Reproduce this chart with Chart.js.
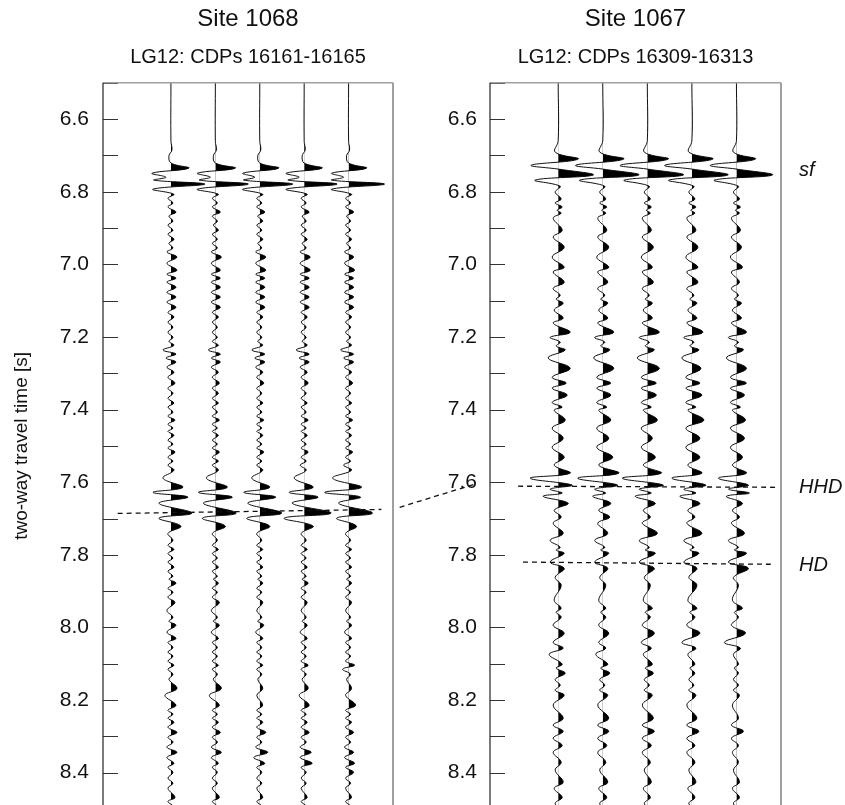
<!DOCTYPE html>
<html>
<head>
<meta charset="utf-8">
<script src="https://cdn.jsdelivr.net/npm/chart.js@4"></script>
<style>
  html, body { margin: 0; padding: 0; background: #fff; overflow: hidden; }
  #wrap { position: relative; width: 845px; height: 805px; overflow: hidden; }
  #c1 { position: absolute; left: 0; top: 0; }
  #c2 { position: absolute; left: 420px; top: 0; }
</style>
</head>
<body>
<div id="wrap">
  <canvas id="c1" width="480" height="840"></canvas>
  <canvas id="c2" width="425" height="840"></canvas>
</div>
<script>
// seismic wiggle traces, two CDP gathers (5 traces each)
// times = two-way travel time [s] of each picked extremum, amps = trace amplitude there
const traceNumbers = [1, 2, 3, 4, 5];

// ---- Site 1068, LG12 CDPs 16161-16165 ----
const leftTimes = [
  6.500, 6.661, 6.685, 6.701, 6.721,
  6.735, 6.749, 6.760, 6.768, 6.779, 6.793,
  6.807, 6.818, 6.831, 6.842, 6.856, 6.867, 6.881, 6.892, 6.906, 6.917,
  6.931, 6.942, 6.955, 6.966, 6.980, 6.997, 7.016, 7.027, 7.038, 7.049,
  7.063, 7.077, 7.090, 7.104, 7.118, 7.132, 7.145, 7.159, 7.173, 7.187,
  7.201, 7.212, 7.223, 7.236, 7.247, 7.258, 7.269, 7.283, 7.297, 7.311,
  7.327, 7.341, 7.355, 7.369, 7.382, 7.393, 7.407, 7.418, 7.429, 7.440,
  7.451, 7.460, 7.471, 7.484, 7.495, 7.506, 7.517, 7.531, 7.542, 7.553,
  7.567,
  7.589, 7.614, 7.628, 7.641, 7.658, 7.685, 7.699, 7.721,
  7.741, 7.760, 7.774, 7.785, 7.796, 7.809, 7.820, 7.834, 7.845, 7.859,
  7.867, 7.878, 7.892, 7.903, 7.917, 7.931, 7.953, 7.972, 7.983, 7.994,
  8.013, 8.030, 8.041, 8.055, 8.068, 8.079, 8.093, 8.104, 8.115, 8.129,
  8.143, 8.168, 8.187, 8.214, 8.228, 8.239, 8.250, 8.261, 8.275, 8.289,
  8.302, 8.316, 8.330, 8.344, 8.358, 8.374, 8.385, 8.399, 8.415, 8.429,
  8.443, 8.468, 8.479, 8.493, 8.510
];
const leftTrace1 = [
  0, 0, 1, -2, 0,
  18, -19, -5, -17, 34, -18,
  3, -3, 2, -3, 5, -2, 2, -3, 2, -3,
  3, -2, 2, -4, 6, -4, 6, -4, 5, -4,
  5, -4, 5, -4, 5, -3, 3, -3, 2, -3,
  2, -2, 3, -8, 5, -5, 5, -4, 3, -3,
  4, -3, 2, -3, 3, -3, 2, -3, 4, -3,
  2, -3, 3, -3, 2, -3, 4, -3, 2, -3,
  3,
  -8, 12, -18, 17, -12, 21, -12, 10,
  -3, 2, -3, 3, -3, 2, -3, 3, -3, 2,
  -2, 5, -3, 2, -3, 4, -4, 2, -2, 5,
  -4, 5, -3, 2, -3, 2, -3, 3, -3, 2,
  -2, 6, -6, 5, -3, 2, -3, 3, -3, 6,
  -3, 2, -4, 6, -4, 3, -3, 2, -3, 2,
  -3, 4, -3, 2, -1
];
const leftTrace2 = [
  0, 0, 1, -2, 0,
  20, -18, -5, -16, 33, -18,
  3, -3, 2, -3, 5, -3, 2, -2, 3, -3,
  2, -3, 2, -4, 6, -4, 5, -4, 5, -4,
  5, -4, 5, -4, 5, -3, 3, -3, 2, -3,
  2, -3, 3, -7, 5, -4, 5, -4, 3, -3,
  4, -3, 3, -3, 3, -3, 2, -3, 4, -3,
  2, -3, 3, -3, 2, -3, 4, -3, 3, -3,
  3,
  -9, 12, -17, 17, -12, 21, -13, 10,
  -3, 2, -3, 3, -3, 2, -3, 3, -3, 2,
  -2, 3, -3, 2, -3, 4, -4, 2, -2, 4,
  -4, 3, -3, 2, -3, 2, -3, 3, -3, 2,
  -2, 6, -6, 4, -3, 2, -3, 3, -3, 5,
  -3, 2, -4, 6, -4, 3, -3, 2, -3, 2,
  -3, 4, -3, 2, -1
];
const leftTrace3 = [
  0, 0, 1, -2, 0,
  19, -17, -5, -16, 33, -17,
  3, -3, 2, -3, 5, -2, 3, -3, 2, -3,
  3, -2, 2, -4, 6, -4, 6, -4, 5, -4,
  5, -4, 5, -4, 5, -3, 3, -3, 2, -3,
  2, -2, 3, -8, 5, -5, 5, -4, 3, -3,
  4, -3, 2, -3, 3, -3, 2, -3, 4, -3,
  2, -3, 3, -3, 2, -3, 4, -3, 2, -3,
  3,
  -8, 10, -16, 16, -12, 22, -13, 10,
  -3, 2, -3, 3, -3, 2, -3, 3, -3, 2,
  -2, 3, -3, 2, -3, 3, -3, 2, -2, 4,
  -4, 3, -3, 2, -3, 2, -3, 3, -3, 2,
  -2, 3, -3, 3, -3, 2, -3, 3, -3, 6,
  -3, 2, -4, 8, -6, 5, -3, 2, -3, 2,
  -3, 3, -3, 2, -1
];
const leftTrace4 = [
  0, 0, 1, -2, 0,
  18, -18, -5, -16, 33, -18,
  3, -3, 2, -3, 5, -2, 2, -3, 2, -3,
  3, -2, 2, -4, 6, -4, 6, -4, 5, -4,
  5, -4, 5, -4, 5, -3, 3, -3, 2, -3,
  2, -2, 3, -8, 5, -5, 5, -4, 3, -3,
  4, -3, 2, -3, 3, -3, 2, -3, 4, -3,
  2, -3, 3, -3, 2, -3, 4, -3, 2, -4,
  2,
  -10, 9, -15, 14, -12, 27, -20, 9,
  -3, 2, -3, 3, -3, 2, -3, 3, -3, 2,
  -2, 4, -3, 2, -3, 3, -3, 2, -2, 3,
  -4, 3, -3, 2, -3, 2, -3, 4, -3, 2,
  -2, 4, -5, 5, -3, 2, -3, 3, -3, 5,
  -3, 2, -4, 7, -4, 8, -3, 2, -3, 2,
  -3, 3, -3, 2, -1
];
const leftTrace5 = [
  0, 0, 1, -2, 0,
  18, -17, -5, -17, 36, -17,
  3, -3, 2, -3, 5, -2, 2, -3, 2, -3,
  3, -2, 2, -4, 5, -4, 6, -4, 5, -4,
  5, -4, 5, -4, 5, -3, 3, -3, 2, -3,
  2, -2, 3, -8, 5, -5, 5, -4, 3, -3,
  4, -3, 2, -3, 3, -3, 2, -3, 4, -3,
  2, -3, 3, -3, 2, -3, 4, -3, 2, -5,
  3,
  -16, 13, -24, 12, -10, 24, -12, 8,
  -3, 2, -3, 3, -3, 2, -3, 3, -3, 2,
  -2, 3, -3, 2, -3, 3, -3, 2, -2, 3,
  -4, 3, -3, 2, -3, 2, -3, 6, -6, 2,
  -2, 3, -3, 7, -3, 2, -3, 3, -3, 5,
  -3, 2, -4, 5, -4, 6, -3, 5, -3, 2,
  -3, 3, -3, 2, -1
];

// ---- Site 1067, LG12 CDPs 16309-16313 ----
const rightTimes = [
  6.500, 6.660,
  6.691, 6.710, 6.727, 6.738, 6.754, 6.768,
  6.785, 6.801, 6.820, 6.831, 6.842, 6.851, 6.859, 6.873, 6.906, 6.925,
  6.953, 6.980, 7.008, 7.021, 7.049, 7.066, 7.085, 7.096, 7.107, 7.126,
  7.148, 7.162, 7.187, 7.201, 7.214, 7.225, 7.236, 7.258, 7.286, 7.311,
  7.327, 7.341, 7.360, 7.380, 7.393, 7.402, 7.429, 7.451, 7.479, 7.504,
  7.531, 7.553,
  7.575, 7.589, 7.608, 7.619, 7.630, 7.639, 7.658,
  7.677, 7.696, 7.713, 7.741, 7.760, 7.779, 7.787, 7.796, 7.820, 7.837,
  7.862, 7.884, 7.925, 7.947, 7.958, 7.972, 7.994, 8.016, 8.041, 8.057,
  8.074, 8.101, 8.112, 8.126, 8.143, 8.159, 8.173, 8.187, 8.214, 8.250,
  8.269, 8.286, 8.305, 8.325, 8.344, 8.371, 8.393, 8.426, 8.443, 8.468,
  8.484, 8.504, 8.520
];
const rightTrace1 = [
  0, 0,
  -3, 20, -27, 1, 35, -23,
  2, -3, 3, -3, 4, -1, 3, -5, 4, -5,
  6, -6, 6, -5, 6, -5, 2, -2, 5, -4,
  5, -5, 12, -8, 2, -2, 7, -10, 12, -6,
  8, -6, 9, -6, 4, -4, 7, -6, 5, -6,
  6, -4,
  12, -28, 14, -8, 4, -15, 10,
  -4, 3, -5, 5, -8, 2, -2, 6, -8, 6,
  -3, 3, -4, 3, -2, 3, -5, 6, -5, 5,
  -9, 4, -2, 7, -3, 2, -3, 6, -5, 5,
  -5, 5, -5, 4, -5, 3, -3, 5, -4, 4,
  -3, 2, 0
];
const rightTrace2 = [
  0, 0,
  -3, 21, -27, 1, 36, -23,
  2, -3, 3, -3, 4, -1, 3, -5, 4, -5,
  6, -6, 6, -5, 5, -5, 2, -2, 5, -4,
  5, -5, 11, -8, 2, -2, 7, -9, 11, -6,
  8, -6, 8, -6, 4, -4, 8, -6, 6, -6,
  10, -4,
  16, -25, 15, -8, 3, -10, 8,
  -4, 7, -5, 5, -8, 2, -2, 6, -8, 5,
  -3, 3, -4, 3, -2, 3, -4, 6, -4, 3,
  -7, 5, -2, 7, -3, 2, -3, 5, -5, 6,
  -5, 6, -5, 4, -5, 3, -3, 5, -4, 4,
  -3, 2, 0
];
const rightTrace3 = [
  0, 0,
  -3, 21, -27, 1, 36, -23,
  2, -3, 3, -3, 4, -1, 3, -5, 4, -5,
  6, -6, 5, -5, 6, -5, 2, -2, 5, -4,
  5, -5, 12, -8, 2, -2, 7, -10, 12, -6,
  9, -6, 9, -6, 4, -4, 10, -6, 5, -6,
  8, -4,
  14, -25, 16, -8, 4, -12, 8,
  -4, 3, -5, 10, -8, 2, -2, 8, -8, 7,
  -3, 3, -4, 5, -2, 3, -5, 7, -6, 4,
  -4, 5, -2, 6, -3, 2, -3, 5, -5, 6,
  -5, 7, -5, 4, -5, 3, -3, 4, -4, 3,
  -3, 2, 0
];
const rightTrace4 = [
  0, 0,
  -3, 21, -27, 1, 36, -23,
  2, -3, 3, -3, 4, -1, 3, -5, 4, -5,
  6, -6, 6, -5, 6, -5, 2, -2, 5, -4,
  5, -5, 11, -8, 2, -2, 7, -10, 9, -6,
  8, -6, 10, -6, 4, -4, 12, -6, 8, -6,
  8, -4,
  10, -20, 14, -8, 4, -12, 8,
  -4, 3, -5, 10, -8, 2, -2, 7, -8, 5,
  -3, 5, -4, 5, -2, 3, -5, 8, -10, 4,
  -4, 3, -2, 3, -3, 2, -3, 4, -5, 5,
  -5, 7, -5, 3, -5, 3, -3, 4, -4, 3,
  -3, 2, 0
];
const rightTrace5 = [
  0, 0,
  -3, 19, -26, 1, 36, -22,
  2, -3, 3, -3, 4, -1, 3, -5, 4, -5,
  5, -6, 6, -5, 3, -5, 2, -2, 5, -4,
  5, -5, 10, -8, 2, -2, 7, -10, 10, -6,
  10, -6, 8, -6, 4, -4, 9, -6, 8, -6,
  6, -4,
  10, -18, 12, -8, 13, -10, 6,
  -4, 3, -5, 8, -8, 2, -2, 10, -8, 12,
  -3, 2, -4, 6, -2, 2, -5, 9, -12, 4,
  -3, 2, -2, 2, -3, 2, -3, 3, -4, 2,
  -5, 7, -5, 2, -4, 2, -3, 3, -4, 3,
  -3, 2, 0
];

// horizon picks (trace units, time) and labels
const leftPicks = [{x0: -0.2, t0: 7.686, x1: 5.74, t1: 7.675}];
const tieLine = [{x0: 6.15, t0: 7.669, x1: 7.83, t1: 7.606}];
const rightPicks = [
  {x0: 0.10, t0: 7.611, x1: 5.92, t1: 7.614},
  {x0: 0.21, t0: 7.820, x1: 5.77, t1: 7.826}
];
const horizonNames = ['sf', 'HHD', 'HD'];
const horizonTimes = [6.740, 7.615, 7.828];

const gain = 1 / 44.5; // amplitude units -> trace spacing
const FONT = '"Liberation Sans", Arial, Helvetica, sans-serif';
Chart.defaults.font.family = FONT;
Chart.defaults.color = '#111';

function buildDatasets(times, traces) {
  return traces.map((amps, k) => ({
    trace: traceNumbers[k],
    data: times.map((t, i) => ({x: traceNumbers[k] + amps[i] * gain, y: t})),
    showLine: true,
    borderColor: '#111',
    borderWidth: 1,
    pointRadius: 0,
    tension: 0.4
  }));
}

function seismicPlugin(picks, names, nameTimes) {
  return {
    id: 'seismic',
    afterDatasetsDraw(chart) {
      // black fill of the positive lobes
      const {ctx, chartArea: a, scales: {x}} = chart;
      chart.data.datasets.forEach((ds, i) => {
        const meta = chart.getDatasetMeta(i);
        const pts = meta.data;
        const base = x.getPixelForValue(ds.trace);
        ctx.save();
        ctx.beginPath();
        ctx.rect(base, a.top, a.right - base, a.bottom - a.top);
        ctx.clip();
        ctx.beginPath();
        meta.dataset.path(ctx);
        ctx.lineTo(base, pts[pts.length - 1].y);
        ctx.lineTo(base, pts[0].y);
        ctx.closePath();
        ctx.fillStyle = '#000';
        ctx.fill();
        ctx.restore();
      });
    },
    afterDraw(chart) {
      const {ctx, chartArea: a, scales: {x, y}} = chart;
      ctx.save();
      // inner tick marks
      ctx.strokeStyle = '#333';
      ctx.lineWidth = 1;
      y.ticks.forEach(tk => {
        const py = Math.round(y.getPixelForValue(tk.value)) + 0.5;
        ctx.beginPath();
        ctx.moveTo(a.left, py);
        ctx.lineTo(a.left + 15, py);
        ctx.stroke();
      });
      // frame
      ctx.strokeStyle = '#a0a0a0';
      ctx.lineWidth = 1.5;
      ctx.beginPath();
      ctx.moveTo(a.left, a.top);
      ctx.lineTo(a.right, a.top);
      ctx.stroke();
      ctx.lineWidth = 2;
      ctx.beginPath();
      ctx.moveTo(a.right, a.top);
      ctx.lineTo(a.right, a.bottom);
      ctx.stroke();
      ctx.strokeStyle = '#222';
      ctx.lineWidth = 1.2;
      ctx.beginPath();
      ctx.moveTo(a.left, a.top);
      ctx.lineTo(a.left, a.bottom);
      ctx.stroke();
      // dashed horizon picks
      ctx.setLineDash([5, 4]);
      ctx.strokeStyle = '#111';
      ctx.lineWidth = 1.3;
      picks.forEach(p => {
        ctx.beginPath();
        ctx.moveTo(x.getPixelForValue(p.x0), y.getPixelForValue(p.t0));
        ctx.lineTo(x.getPixelForValue(p.x1), y.getPixelForValue(p.t1));
        ctx.stroke();
      });
      ctx.setLineDash([]);
      // horizon names
      ctx.fillStyle = '#111';
      ctx.font = 'italic 20px ' + FONT;
      ctx.textAlign = 'left';
      ctx.textBaseline = 'middle';
      names.forEach((n, i) => ctx.fillText(n, a.right + 18, y.getPixelForValue(nameTimes[i])));
      ctx.restore();
    }
  };
}

function makePanel(id, site, cdps, times, traces, cfg) {
  return new Chart(document.getElementById(id), {
    type: 'scatter',
    data: {datasets: buildDatasets(times, traces)},
    options: {
      responsive: false,
      animation: false,
      events: [],
      layout: {padding: {left: 0, right: cfg.padRight, top: 0, bottom: 31}},
      plugins: {
        legend: {display: false},
        tooltip: {enabled: false},
        title: {display: true, text: site, fullSize: false, color: '#111',
                font: {size: 24, weight: 'normal'}, padding: {top: 5, bottom: 0}},
        subtitle: {display: true, text: cdps, fullSize: false, color: '#111',
                   font: {size: 20}, padding: {top: 12, bottom: 13}}
      },
      scales: {
        x: {type: 'linear', display: false, min: -0.53, max: 6.0},
        y: {
          type: 'linear', reverse: true, min: 6.5, max: 8.5,
          afterFit: s => { s.width = cfg.axisWidth; },
          grid: {display: false, drawTicks: false},
          border: {display: false},
          ticks: {
            stepSize: 0.1, maxTicksLimit: 30, autoSkip: false,
            padding: cfg.tickPad, color: '#111', font: {size: 21},
            callback: v => {
              const k = Math.round(v * 10);
              return k % 2 === 0 ? (k / 10).toFixed(1) : '';
            }
          },
          title: {display: !!cfg.axisTitle, text: cfg.axisTitle || '', color: '#111',
                  font: {size: 19}, padding: {top: 10, bottom: 0}}
        }
      }
    },
    plugins: [seismicPlugin(cfg.picks, cfg.names, cfg.nameTimes)]
  });
}

makePanel('c1', 'Site 1068', 'LG12: CDPs 16161-16165', leftTimes,
  [leftTrace1, leftTrace2, leftTrace3, leftTrace4, leftTrace5],
  {padRight: 87, axisWidth: 103, tickPad: 14, axisTitle: 'two-way travel time [s]',
   picks: leftPicks.concat(tieLine), names: [], nameTimes: []});

makePanel('c2', 'Site 1067', 'LG12: CDPs 16309-16313', rightTimes,
  [rightTrace1, rightTrace2, rightTrace3, rightTrace4, rightTrace5],
  {padRight: 64, axisWidth: 70, tickPad: 13, axisTitle: '',
   picks: rightPicks, names: horizonNames, nameTimes: horizonTimes});
</script>
</body>
</html>
